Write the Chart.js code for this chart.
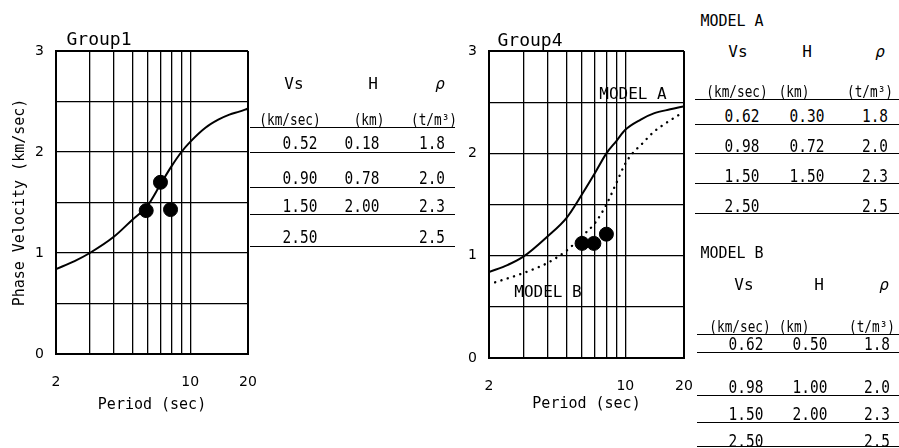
<!DOCTYPE html>
<html>
<head>
<meta charset="utf-8">
<script src="https://cdn.jsdelivr.net/npm/chart.js@4.4.0/dist/chart.umd.min.js"></script>
<style>
  body { margin: 0; background: #fff; }
  #wrap { position: relative; width: 899px; height: 448px; overflow: hidden;
          font-family: "DejaVu Sans Mono", monospace; color: #000; }
  canvas { position: absolute; top: 0; }
  .t { position: absolute; transform: translate(-50%, -50%); white-space: nowrap; line-height: 1; }
  .ln { position: absolute; height: 0; border-top: 1.7px solid #000; }
</style>
</head>
<body>
<div id="wrap">
  <canvas id="g1" width="262" height="448" style="left:0"></canvas>
  <canvas id="g4" width="270" height="448" style="left:430px"></canvas>
</div>
<script>
// ---- datos ----
const xGridTicks = [2, 3, 4, 5, 6, 7, 8, 9, 10, 20];
const xTickLabels = [2, 10, 20];
const yTickLabels = [0, 1, 2, 3];

const group1CurveX = [2, 2.5, 3, 4, 5, 6, 7, 8, 9, 10, 12, 14, 16, 18, 20];
const group1CurveY = [0.84, 0.92, 1.0, 1.16, 1.33, 1.47, 1.68, 1.86, 2.0, 2.1, 2.24, 2.32, 2.37, 2.40, 2.43];
const group1ObsX = [5.9, 7.0, 7.9];
const group1ObsY = [1.42, 1.70, 1.43];

const modelACurveX = [2, 2.5, 3, 4, 5, 6, 7, 8, 9, 10, 12, 14, 17, 20];
const modelACurveY = [0.84, 0.91, 0.99, 1.19, 1.37, 1.60, 1.81, 2.0, 2.12, 2.23, 2.33, 2.39, 2.43, 2.46];
const modelBCurveX = [2.15, 3, 4, 5, 6, 7, 8, 9, 10, 11, 12, 14, 16, 19];
const modelBCurveY = [0.74, 0.83, 0.93, 1.05, 1.19, 1.32, 1.50, 1.71, 1.90, 2.01, 2.08, 2.21, 2.29, 2.38];
const group4ObsX = [6.0, 6.9, 8.0];
const group4ObsY = [1.12, 1.12, 1.21];

const tableHeads = ['Vs', 'H', 'ρ'];
const tableUnits = ['(km/sec)', '(km)', '(t/m³)'];
const group1Layers = [['0.52', '0.18', '1.8'], ['0.90', '0.78', '2.0'], ['1.50', '2.00', '2.3'], ['2.50', '', '2.5']];
const modelALayers = [['0.62', '0.30', '1.8'], ['0.98', '0.72', '2.0'], ['1.50', '1.50', '2.3'], ['2.50', '', '2.5']];
const modelBLayers = [['0.62', '0.50', '1.8'], ['0.98', '1.00', '2.0'], ['1.50', '2.00', '2.3'], ['2.50', '', '2.5']];

const wrap = document.querySelector('#wrap');

function addText (txt, x, y, size, extra) {
    const el = document.createElement('div');
    el.className = 't';
    el.textContent = txt;
    el.style.left = x + 'px';
    el.style.top = y + 'px';
    el.style.fontSize = size + 'px';
    if (extra) Object.assign(el.style, extra);
    wrap.appendChild(el);
}

function addLine (x1, x2, y) {
    const el = document.createElement('div');
    el.className = 'ln';
    el.style.left = x1 + 'px';
    el.style.width = (x2 - x1) + 'px';
    el.style.top = y + 'px';
    wrap.appendChild(el);
}

const toXY = (xs, ys) => xs.map((x, i) => ({ x: x, y: ys[i] }));

function makeChart (id, cfg) {
    const ctx = document.querySelector(id).getContext('2d');
    return new Chart(ctx, {
        type: 'scatter',
        data: { datasets: cfg.datasets },
        options: {
            responsive: false,
            animation: false,
            layout: { padding: { top: 51, right: cfg.padRight, left: 0, bottom: 0 } },
            plugins: { legend: { display: false }, tooltip: { enabled: false } },
            scales: {
                x: {
                    type: 'logarithmic',
                    min: 2,
                    max: 20,
                    afterBuildTicks: (scale) => { scale.ticks = xGridTicks.map(v => ({ value: v })); },
                    afterFit: (scale) => {
                        scale.height = cfg.xHeight;
                        scale.paddingLeft = 0;
                        scale.paddingRight = 0;
                    },
                    ticks: {
                        autoSkip: false,
                        maxRotation: 0,
                        padding: 20,
                        color: '#000',
                        font: { family: 'DejaVu Sans', size: 14 },
                        callback: (v) => xTickLabels.includes(v) ? String(v) : ''
                    },
                    grid: {
                        color: '#000',
                        drawTicks: false,
                        lineWidth: (c) => (c.tick && (c.tick.value === 2 || c.tick.value === 20)) ? 2 : 1.3
                    },
                    border: { color: '#000', width: 2 },
                    title: {
                        display: true,
                        text: 'Period (sec)',
                        color: '#000',
                        font: { family: 'DejaVu Sans Mono', size: 15 },
                        padding: { top: 0, bottom: cfg.xTitlePad }
                    }
                },
                y: {
                    min: 0,
                    max: 3,
                    afterFit: (scale) => {
                        scale.width = cfg.yWidth;
                        scale.paddingTop = 0;
                        scale.paddingBottom = 0;
                    },
                    ticks: {
                        stepSize: 0.5,
                        padding: 12,
                        color: '#000',
                        font: { family: 'DejaVu Sans', size: 14 },
                        callback: (v) => yTickLabels.includes(v) ? String(v) : ''
                    },
                    grid: {
                        color: '#000',
                        drawTicks: false,
                        lineWidth: (c) => (c.tick && (c.tick.value === 0 || c.tick.value === 3)) ? 2 : 1.3
                    },
                    border: { color: '#000', width: 2 },
                    title: {
                        display: cfg.yTitle !== '',
                        text: cfg.yTitle,
                        color: '#000',
                        font: { family: 'DejaVu Sans Mono', size: 15 },
                        padding: { top: 11, bottom: 0 }
                    }
                }
            }
        }
    });
}

const curveStyle = { showLine: true, pointRadius: 0, borderColor: '#000', borderWidth: 2,
    cubicInterpolationMode: 'monotone', fill: false };
const obsStyle = { pointRadius: 7, pointBackgroundColor: '#000', pointBorderColor: '#000', showLine: false };

makeChart('#g1', {
    padRight: 14, xHeight: 94, yWidth: 56, xTitlePad: 34,
    yTitle: 'Phase Velocity (km/sec)',
    datasets: [
        Object.assign({ data: toXY(group1CurveX, group1CurveY) }, curveStyle),
        Object.assign({ data: toXY(group1ObsX, group1ObsY) }, obsStyle)
    ]
});

makeChart('#g4', {
    padRight: 16, xHeight: 90, yWidth: 59, xTitlePad: 35,
    yTitle: '',
    datasets: [
        Object.assign({ data: toXY(modelACurveX, modelACurveY) }, curveStyle),
        Object.assign({ data: toXY(modelBCurveX, modelBCurveY) }, curveStyle,
            { borderDash: [0.1, 6.5], borderCapStyle: 'round', borderWidth: 2.4 }),
        Object.assign({ data: toXY(group4ObsX, group4ObsY) }, obsStyle)
    ]
});

// titulos y etiquetas
addText('Group1', 99, 39, 18);
addText('Group4', 530, 40, 18);
addText('MODEL A', 633, 94, 16);
addText('MODEL B', 548, 292, 16);

// tablas de capas
const narrow = { transform: 'translate(-50%, -50%) scaleX(0.85)' };

function drawTable (rows, c) {
    if (c.title) addText(c.title, c.titleX, c.titleY, 15);
    tableHeads.forEach((h, i) => addText(h, c.headX[i], c.headY, 16, i === 2 ? { fontStyle: 'italic' } : null));
    tableUnits.forEach((u, i) => addText(u, c.unitX[i], c.unitY, 15, narrow));
    addLine(c.x1, c.x2, c.unitLine);
    rows.forEach((r, j) => {
        r.forEach((v, i) => { if (v) addText(v, c.valX[i], c.rowY[j], 17, narrow); });
        addLine(c.x1, c.x2, c.rowLine[j]);
    });
}

drawTable(group1Layers, {
    x1: 250, x2: 455, headY: 84, headX: [294, 373, 440],
    unitY: 120, unitX: [290, 369, 434], unitLine: 127,
    rowY: [143, 178, 206, 237], rowLine: [152, 187, 214, 246], valX: [300, 362, 432]
});
drawTable(modelALayers, {
    title: 'MODEL A', titleX: 732, titleY: 21,
    x1: 695, x2: 899, headY: 52, headX: [738, 807, 880],
    unitY: 92, unitX: [737, 794, 870], unitLine: 99,
    rowY: [116, 146, 176, 206], rowLine: [124, 153, 183, 213], valX: [742, 807, 875]
});
drawTable(modelBLayers, {
    title: 'MODEL B', titleX: 732, titleY: 253,
    x1: 697, x2: 899, headY: 285, headX: [744, 819, 884],
    unitY: 327, unitX: [740, 794, 872], unitLine: 334,
    rowY: [344, 387, 414, 441], rowLine: [352, 395, 422, 446], valX: [746, 810, 877]
});
</script>
</body>
</html>
